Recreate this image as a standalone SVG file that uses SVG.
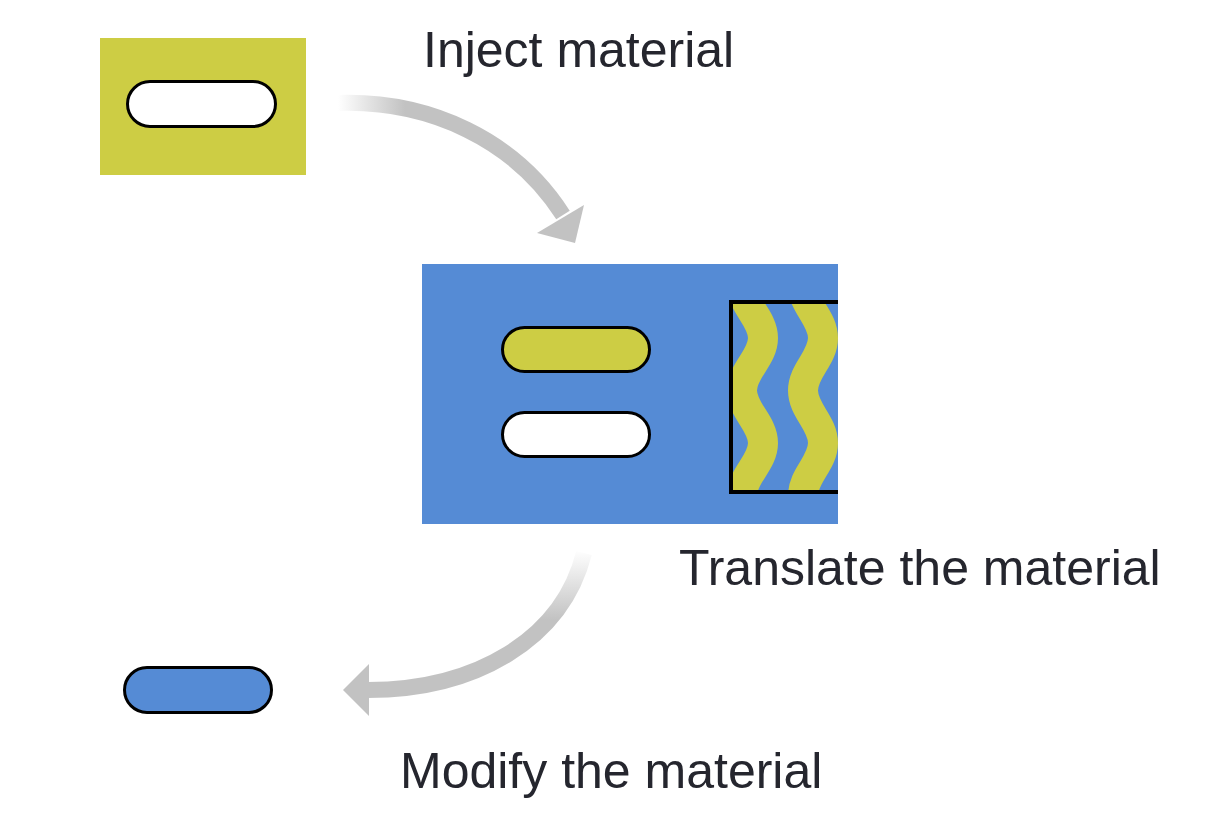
<svg xmlns="http://www.w3.org/2000/svg" width="1220" height="833" viewBox="0 0 1220 833">
<style>
.lbl{font-family:"Liberation Sans",Arial,sans-serif;font-size:50px;fill:#25262e}
.pill{stroke:#000;stroke-width:3}
.arrow{fill:none;stroke-width:16}
.head{fill:#c2c2c2}
</style>
<defs>
<linearGradient id="g1" gradientUnits="userSpaceOnUse" x1="338" y1="0" x2="405" y2="0">
<stop offset="0" stop-color="#ffffff"/><stop offset="1" stop-color="#c2c2c2"/>
</linearGradient>
<linearGradient id="g2" gradientUnits="userSpaceOnUse" x1="0" y1="550" x2="0" y2="620">
<stop offset="0" stop-color="#ffffff"/><stop offset="1" stop-color="#c2c2c2"/>
</linearGradient>
<clipPath id="clipBox"><rect x="731" y="302" width="107" height="190"/></clipPath>
</defs>
<rect width="1220" height="833" fill="#fff"/>
<g id="connectors">
<path class="arrow" stroke="url(#g1)" d="M338,103 C430,100 515,140 563,215"/>
<polygon class="head" points="584,205 537,233 575,243"/>
<path class="arrow" stroke="url(#g2)" d="M584,553 C562,640 475,690 368,690"/>
<polygon class="head" points="343,690 369,664 369,716"/>
</g>
<g id="source">
<rect x="100" y="38" width="206" height="137" fill="#cdcd44"/>
<rect class="pill" x="127.5" y="81.5" width="148" height="45" rx="22.5" fill="#fff"/>
</g>
<g id="cell">
<rect x="422" y="264" width="416" height="260" fill="#558bd5"/>
<rect class="pill" x="502.5" y="327.5" width="147" height="44" rx="22" fill="#cdcd44"/>
<rect class="pill" x="502.5" y="412.5" width="147" height="44" rx="22" fill="#fff"/>
<g clip-path="url(#clipBox)" fill="none" stroke="#cdcd44" stroke-width="30">
<path d="M763,233 C763,253 742,265.5 742,285.5 C742,305.5 763,318 763,338 C763,358 742,370.5 742,390.5 C742,410.5 763,423 763,443 C763,463 742,475.5 742,495.5 C742,515.5 763,528 763,548"/>
<path d="M823,233 C823,253 803,265.5 803,285.5 C803,305.5 823,318 823,338 C823,358 803,370.5 803,390.5 C803,410.5 823,423 823,443 C823,463 803,475.5 803,495.5 C803,515.5 823,528 823,548"/>
</g>
<path d="M838,302 H731 V492 H838" fill="none" stroke="#000" stroke-width="4"/>
</g>
<g id="product">
<rect class="pill" x="124.5" y="667.5" width="147" height="45" rx="22.5" fill="#558bd5"/>
</g>
<g id="labels">
<text class="lbl" x="423" y="66.5">Inject material</text>
<text class="lbl" x="679" y="585">Translate the material</text>
<text class="lbl" x="400" y="788">Modify the material</text>
</g>
</svg>
